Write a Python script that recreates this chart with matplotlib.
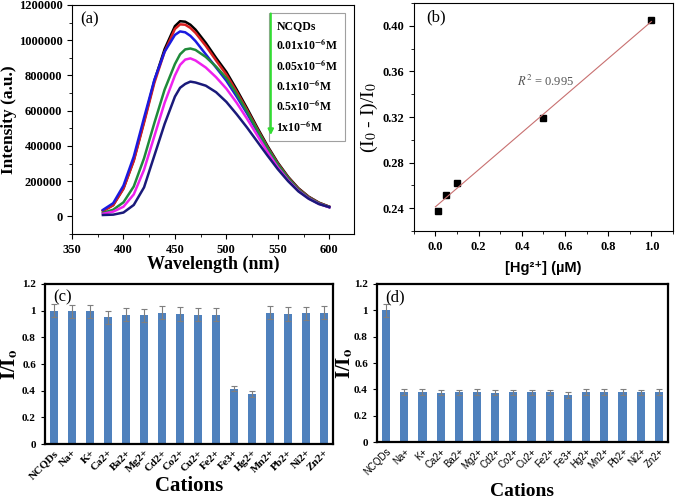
import numpy as np
import matplotlib
matplotlib.use("Agg")
import matplotlib.pyplot as plt
from matplotlib.ticker import AutoMinorLocator

plt.rcParams['font.family'] = ['Liberation Serif', 'DejaVu Serif']
plt.rcParams['mathtext.fontset'] = 'stix'

# ---- (a) emission spectra ----
wl = [380, 390, 400, 410, 420, 430, 440, 450, 455, 460, 465, 470, 480, 490,
      500, 510, 520, 530, 540, 550, 560, 570, 580, 590, 600]
i_ncqds = [32000, 65000, 160000, 320000, 540000, 770000, 950000, 1080000, 1108000, 1105000,
           1088000, 1060000, 985000, 900000, 820000, 720000, 615000, 505000, 400000, 305000,
           225000, 160000, 112000, 78000, 55000]
i_001 = [30000, 63000, 157000, 315000, 532000, 758000, 935000, 1064000, 1090000, 1088000,
         1070000, 1042000, 968000, 885000, 805000, 708000, 605000, 497000, 393000, 300000,
         221000, 157000, 110000, 77000, 55000]
i_005 = [37000, 75000, 175000, 340000, 560000, 775000, 935000, 1030000, 1050000, 1045000,
         1025000, 995000, 920000, 845000, 770000, 680000, 585000, 482000, 382000, 290000,
         213000, 150000, 105000, 73000, 52000]
i_01 = [20000, 38000, 80000, 170000, 330000, 530000, 720000, 865000, 920000, 948000,
        953000, 945000, 905000, 850000, 785000, 695000, 595000, 490000, 388000, 295000,
        217000, 153000, 107000, 75000, 54000]
i_05 = [15000, 27000, 55000, 125000, 265000, 455000, 645000, 800000, 860000, 890000,
        897000, 885000, 845000, 790000, 725000, 645000, 555000, 460000, 365000, 278000,
        205000, 145000, 102000, 71000, 52000]
i_1 = [8000, 10000, 22000, 65000, 165000, 345000, 525000, 680000, 730000, 752000,
       765000, 760000, 742000, 705000, 650000, 580000, 505000, 425000, 345000, 268000,
       200000, 142000, 100000, 70000, 53000]
spectra = [i_ncqds, i_001, i_005, i_01, i_05, i_1]
spec_colors = ['black', '#d62020', '#1a1ae0', '#1f8a3a', '#ee22ee', '#1a1a7a']
spec_labels = ['NCQDs', r'0.01x10$^{\mathbf{-6}}$M', r'0.05x10$^{\mathbf{-6}}$M',
               r'0.1x10$^{\mathbf{-6}}$M', r'0.5x10$^{\mathbf{-6}}$M', r'1x10$^{\mathbf{-6}}$M']

# ---- (b) linear fit ----
hg_conc = [0.01, 0.05, 0.1, 0.5, 1.0]
quench = [0.238, 0.252, 0.262, 0.319, 0.405]

# ---- (c), (d) selectivity ----
cations = ['NCQDs', 'Na+', 'K+', 'Ca2+', 'Ba2+', 'Mg2+', 'Cd2+', 'Co2+', 'Cu2+',
           'Fe2+', 'Fe3+', 'Hg2+', 'Mn2+', 'Pb2+', 'Ni2+', 'Zn2+']
ratio_c = [1.0, 0.995, 0.995, 0.95, 0.97, 0.965, 0.985, 0.975, 0.97, 0.97,
           0.415, 0.375, 0.985, 0.975, 0.98, 0.985]
err_c = [0.05, 0.05, 0.05, 0.05, 0.05, 0.05, 0.05, 0.05, 0.05, 0.05,
         0.02, 0.02, 0.05, 0.05, 0.05, 0.05]
ratio_d = [1.0, 0.38, 0.38, 0.375, 0.378, 0.38, 0.376, 0.377, 0.377, 0.377,
           0.357, 0.38, 0.38, 0.38, 0.377, 0.38]
err_d = [0.05, 0.02, 0.02, 0.02, 0.02, 0.02, 0.02, 0.02, 0.02, 0.02,
         0.02, 0.02, 0.02, 0.02, 0.02, 0.02]

fig = plt.figure(figsize=(6.75, 4.99), dpi=100)

# (a)
ax1 = fig.add_axes([0.1067, 0.531, 0.4177, 0.459])
for y, c, lab in zip(spectra, spec_colors, spec_labels):
    ax1.plot(wl, y, color=c, lw=1.8, label=lab)
ax1.set_xlim(350, 624)
ax1.set_ylim(-100000, 1200000)
ax1.set_xticks([350, 400, 450, 500, 550, 600])
ax1.set_yticks(np.arange(0, 1200001, 200000))
ax1.ticklabel_format(axis='y', style='plain', useOffset=False)
ax1.xaxis.set_minor_locator(AutoMinorLocator(2))
ax1.yaxis.set_minor_locator(AutoMinorLocator(2))
ax1.tick_params(which='both', direction='out', labelsize=9)
ax1.tick_params(which='major', length=3.5)
ax1.tick_params(which='minor', length=2)
for t in ax1.get_xticklabels() + ax1.get_yticklabels():
    t.set_fontweight('bold')
ax1.set_xlabel('Wavelength (nm)', fontsize=13, fontweight='bold')
ax1.xaxis.set_label_coords(0.5, -0.095)
ax1.set_ylabel('Intensity (a.u.)', fontsize=12.5, fontweight='bold')
ax1.yaxis.set_label_coords(-0.195, 0.5)
ax1.text(0.03, 0.92, '(a)', transform=ax1.transAxes, fontsize=12)
leg = ax1.legend(loc='upper left', bbox_to_anchor=(0.70, 0.965), handlelength=0,
                 handletextpad=0, labelspacing=0.45, fancybox=False,
                 prop={'weight': 'bold', 'size': 8.5}, borderpad=0.6, borderaxespad=0)
for h in leg.legend_handles:
    h.set_visible(False)
leg.get_frame().set_edgecolor('#888888')
leg.get_frame().set_linewidth(0.8)
ax1.annotate('', xy=(0.705, 0.42), xytext=(0.705, 0.975), xycoords='axes fraction',
             arrowprops=dict(arrowstyle='-|>', color='#33dd33', lw=1.5, mutation_scale=8),
             zorder=6)

# (b)
ax2 = fig.add_axes([0.613, 0.537, 0.384, 0.457])
ax2.plot(hg_conc, quench, 's', color='black', ms=5)
k, b0 = np.polyfit(hg_conc, quench, 1)
xs = np.array([0.0, 1.0])
ax2.plot(xs, k * xs + b0, color='#c87070', lw=0.8)
ax2.set_xlim(-0.1, 1.1)
ax2.set_ylim(0.22, 0.42)
ax2.set_xticks([0.0, 0.2, 0.4, 0.6, 0.8, 1.0])
ax2.set_yticks([0.24, 0.28, 0.32, 0.36, 0.40])
ax2.set_yticklabels(['0.24', '0.28', '0.32', '0.36', '0.40'])
ax2.set_xticklabels(['0.0', '0.2', '0.4', '0.6', '0.8', '1.0'])
ax2.xaxis.set_minor_locator(AutoMinorLocator(2))
ax2.yaxis.set_minor_locator(AutoMinorLocator(2))
ax2.tick_params(which='both', direction='out', labelsize=9)
ax2.tick_params(which='major', length=3.5)
ax2.tick_params(which='minor', length=2)
for t in ax2.get_xticklabels() + ax2.get_yticklabels():
    t.set_fontweight('bold')
ax2.text(0.38, 0.3475, r'$R^2$ = 0.995', fontsize=9, color='#555555')
ax2.text(0.05, 0.92, '(b)', transform=ax2.transAxes, fontsize=12)
ax2.set_ylabel(r'(I$_0$ - I)/I$_0$', fontsize=14)
ax2.yaxis.set_label_coords(-0.13, 0.5)
ax2.set_xlabel('[Hg²⁺] (µM)', fontsize=10.5, fontweight='bold',
               family=['Liberation Sans', 'DejaVu Sans'])
ax2.xaxis.set_label_coords(0.5, -0.13)


def bar_panel(ax, vals, errs, tag, tick_kw, xlabel_size):
    pos = np.arange(len(cations))
    ax.bar(pos, vals, width=0.45, color='#4f81bd', zorder=2)
    ax.errorbar(pos, vals, yerr=errs, fmt='none', ecolor='#7f7f7f', elinewidth=0.8,
                capsize=2, capthick=0.8, zorder=3)
    ax.set_xlim(-0.5, len(cations) - 0.5)
    ax.set_ylim(0, 1.2)
    ax.set_yticks([0, 0.2, 0.4, 0.6, 0.8, 1.0, 1.2])
    ax.set_yticklabels(['0', '0.2', '0.4', '0.6', '0.8', '1', '1.2'])
    ax.set_xticks(pos)
    ax.set_xticklabels(cations, rotation=45, ha='right', rotation_mode='anchor', **tick_kw)
    ax.tick_params(axis='y', labelsize=8, length=3, direction='out')
    ax.tick_params(axis='x', length=0, pad=3)
    for t in ax.get_yticklabels():
        t.set_fontweight('bold')
    for s in ax.spines.values():
        s.set_linewidth(1.6)
    ax.set_ylabel(r'I/I$_{\mathbf{o}}$', fontsize=15, fontweight='bold')
    ax.set_xlabel('Cations', fontsize=xlabel_size, fontweight='bold')
    ax.text(0.03, 0.89, tag, transform=ax.transAxes, fontsize=12)


ax3 = fig.add_axes([0.0667, 0.110, 0.4263, 0.321])
bar_panel(ax3, ratio_c, err_c, '(c)', {'fontsize': 8, 'fontweight': 'bold'}, 15)
ax3.xaxis.set_label_coords(0.5, -0.2)
ax3.yaxis.set_label_coords(-0.087, 0.5)

ax4 = fig.add_axes([0.5585, 0.114, 0.4311, 0.317])
bar_panel(ax4, ratio_d, err_d, '(d)',
          {'fontsize': 7, 'family': ['Liberation Sans', 'DejaVu Sans']}, 14)
ax4.xaxis.set_label_coords(0.5, -0.26)
ax4.yaxis.set_label_coords(-0.076, 0.5)

fig.savefig('out.png', dpi=100)
